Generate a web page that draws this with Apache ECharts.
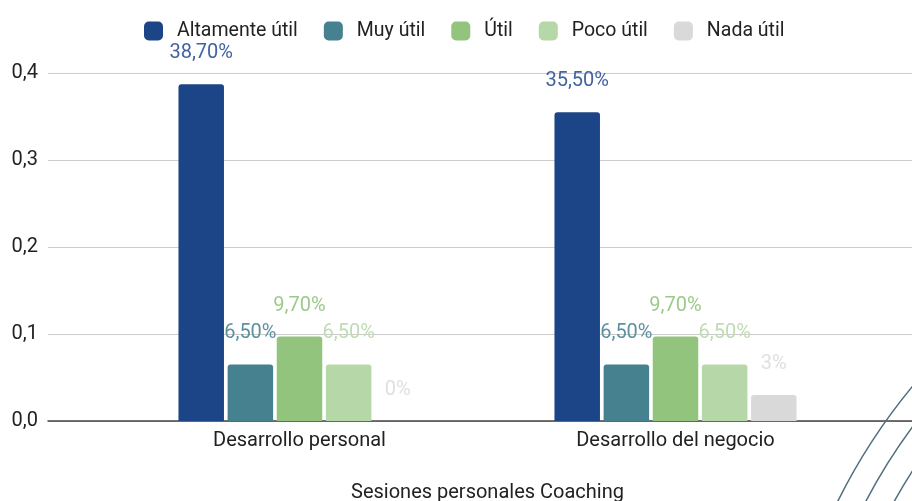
<!DOCTYPE html>
<html>
<head>
<meta charset="utf-8">
<script src="https://cdn.jsdelivr.net/npm/echarts@6/dist/echarts.min.js"></script>
<style>
  html, body { margin: 0; padding: 0; background: #fff; }
  #chart { width: 912px; height: 501px; }
</style>
</head>
<body>
<div id="chart"></div>
<script>
// data
const categories = ['Desarrollo personal', 'Desarrollo del negocio'];
const seriesNames = ['Altamente útil', 'Muy útil', 'Útil', 'Poco útil', 'Nada útil'];
const altamente = [0.387, 0.355];
const muy = [0.065, 0.065];
const util = [0.097, 0.097];
const poco = [0.065, 0.065];
const nada = [0, 0.03];
const yTicks = [0, 0.1, 0.2, 0.3, 0.4];
const axisTitle = 'Sesiones personales Coaching';

const barColors = ['#1c4587', '#45818e', '#93c47d', '#b6d7a8', '#d9d9d9'];
const labelColors = ['#4263a3', '#5c919d', '#9dca8a', '#bfdcb3', '#e0e0e0'];
const font = 'Roboto, "Liberation Sans", sans-serif';

let chart = echarts.init(document.getElementById('chart'));

function pct(v) {
	let p = Math.round(v * 10000) / 100;
	let s = (p % 1 === 0) ? String(p) : p.toFixed(2);
	return s.replace('.', ',') + '%';
}

let values = [altamente, muy, util, poco, nada];
let series = values.map((d, i) => ({
	name: seriesNames[i],
	type: 'bar',
	xAxisIndex: 1,
	yAxisIndex: 1,
	data: d,
	barWidth: 45.5,
	barGap: '8%',
	itemStyle: { color: barColors[i], borderRadius: [3, 3, 0, 0] },
	label: {
		show: true,
		position: 'top',
		distance: 21,
		color: labelColors[i],
		fontFamily: font,
		fontSize: 20,
		formatter: p => pct(p.value)
	}
}));

// background arcs (slide decoration)
let arcs = [606, 581, 556].map(r => ({
	type: 'circle',
	shape: { cx: 1380, cy: 772, r: r },
	style: { fill: 'none', stroke: '#4f6f7d', lineWidth: 1.5 },
	z: 100,
	silent: true
}));

let option = {
	animation: false,
	backgroundColor: '#fff',
	color: barColors,
	legend: {
		data: seriesNames,
		left: 139,
		top: 16,
		itemWidth: 19,
		itemHeight: 19,
		itemGap: 26,
		icon: 'roundRect',
		textStyle: { fontFamily: font, fontSize: 19.5, color: '#222', padding: [0, 0, 0, 9] }
	},
	grid: [
		{ left: 48, right: 0, top: 73, bottom: 80, outerBoundsMode: 'none' },
		{ left: 111.5, right: 48.5, top: 73, bottom: 80, outerBoundsMode: 'none' }
	],
	xAxis: [{
		gridIndex: 0,
		type: 'category',
		data: [''],
		axisLine: { lineStyle: { color: '#444', width: 1.5 } },
		axisTick: { show: false },
		axisLabel: { show: false }
	}, {
		gridIndex: 1,
		type: 'category',
		data: categories,
		axisLine: { show: false },
		axisTick: { show: false },
		axisLabel: { margin: 10, color: '#222', fontFamily: font, fontSize: 20 },
		name: axisTitle,
		nameLocation: 'middle',
		nameGap: 62,
		nameTextStyle: { color: '#222', fontFamily: font, fontSize: 20 }
	}],
	yAxis: [{
		gridIndex: 0,
		type: 'value',
		min: yTicks[0],
		max: yTicks[yTicks.length - 1],
		interval: 0.1,
		axisLine: { show: false },
		axisTick: { show: false },
		axisLabel: {
			margin: 10,
			color: '#222',
			fontFamily: font,
			fontSize: 20,
			formatter: v => v.toFixed(1).replace('.', ',')
		},
		splitLine: { lineStyle: { color: '#cccccc', width: 1 } }
	}, {
		gridIndex: 1,
		type: 'value',
		min: yTicks[0],
		max: yTicks[yTicks.length - 1],
		interval: 0.1,
		show: false
	}],
	graphic: arcs,
	series: series
};

chart.setOption(option);
</script>
</body>
</html>
